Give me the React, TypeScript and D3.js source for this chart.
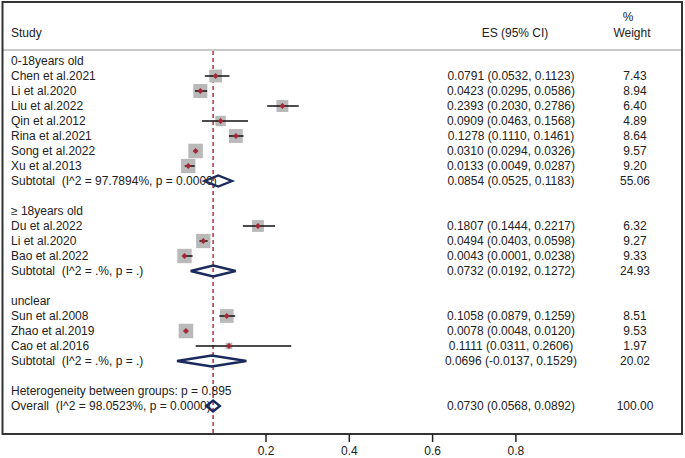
import React from "react";
import * as d3 from "d3";

const groupLabels = ["0-18years old", "\u2265 18years old", "unclear"];

const studyNames = [
  "Chen et al.2021", "Li et al.2020", "Liu et al.2022", "Qin et al.2012",
  "Rina et al.2021", "Song et al.2022", "Xu et al.2013",
  "Du et al.2022", "Li et al.2020", "Bao et al.2022",
  "Sun et al.2008", "Zhao et al.2019", "Cao et al.2016",
];
const studyGroup = [0, 0, 0, 0, 0, 0, 0, 1, 1, 1, 2, 2, 2];
const studyES = [0.0791, 0.0423, 0.2393, 0.0909, 0.1278, 0.031, 0.0133, 0.1807, 0.0494, 0.0043, 0.1058, 0.0078, 0.1111];
const studyLo = [0.0532, 0.0295, 0.203, 0.0463, 0.111, 0.0294, 0.0049, 0.1444, 0.0403, 0.0001, 0.0879, 0.0048, 0.0311];
const studyHi = [0.1123, 0.0586, 0.2786, 0.1568, 0.1461, 0.0326, 0.0287, 0.2217, 0.0598, 0.0238, 0.1259, 0.012, 0.2606];
const studyWeight = [7.43, 8.94, 6.4, 4.89, 8.64, 9.57, 9.2, 6.32, 9.27, 9.33, 8.51, 9.53, 1.97];

const subtotalLabels = [
  "Subtotal  (I^2 = 97.7894%, p = 0.0000)",
  "Subtotal  (I^2 = .%, p = .)",
  "Subtotal  (I^2 = .%, p = .)",
];
const subtotalES = [0.0854, 0.0732, 0.0696];
const subtotalLo = [0.0525, 0.0192, -0.0137];
const subtotalHi = [0.1183, 0.1272, 0.1529];
const subtotalWeight = [55.06, 24.93, 20.02];

const heterogeneityLabel = "Heterogeneity between groups: p = 0.895";
const overallLabel = "Overall  (I^2 = 98.0523%, p = 0.0000)";
const overallES = 0.073;
const overallLo = 0.0568;
const overallHi = 0.0892;
const overallWeight = 100.0;

const xTicks = [0.2, 0.4, 0.6, 0.8];

const W = 685;
const H = 458;
const font = "'Liberation Sans', Arial, sans-serif";
const navy = "#1b2a5c";
const red = "#a3293a";

type Row = {
  kind: "group" | "study" | "sub" | "blank" | "het" | "overall";
  label?: string;
  es?: number;
  lo?: number;
  hi?: number;
  w?: number;
};

function buildRows(): Row[] {
  const rows: Row[] = [];
  groupLabels.forEach((g, gi) => {
    rows.push({ kind: "group", label: g });
    studyNames.forEach((n, i) => {
      if (studyGroup[i] !== gi) return;
      rows.push({ kind: "study", label: n, es: studyES[i], lo: studyLo[i], hi: studyHi[i], w: studyWeight[i] });
    });
    rows.push({ kind: "sub", label: subtotalLabels[gi], es: subtotalES[gi], lo: subtotalLo[gi], hi: subtotalHi[gi], w: subtotalWeight[gi] });
    rows.push({ kind: "blank" });
  });
  rows.push({ kind: "het", label: heterogeneityLabel });
  rows.push({ kind: "overall", label: overallLabel, es: overallES, lo: overallLo, hi: overallHi, w: overallWeight });
  return rows;
}

const App = () => {
  const rows = buildRows();
  const x = d3.scaleLinear().domain([0, 1]).range([182.7, 599.2]);
  const y = d3.scaleLinear().domain([0, rows.length - 1]).range([61, 61 + 15 * (rows.length - 1)]);
  const fmt4 = d3.format(".4f");
  const fmt = (v: number) => fmt4(v).replace("\u2212", "-");
  const fmtW = d3.format(".2f");
  const boxSide = (w: number) => 4.7 * Math.sqrt(w);

  const top = 2;
  const bottom = 434;
  const left = 2.5;
  const right = 682;

  return (
    <svg width={W} height={H} style={{ position: "absolute", left: 0, top: 0, background: "#fff" }}
      fontFamily={font} fontSize={12}>
      <rect x={0} y={0} width={W} height={H} fill="#fff" />
      {/* header */}
      <text x={11} y={33} dominantBaseline="central" fill="#222">Study</text>
      <text x={515} y={33} dominantBaseline="central" textAnchor="middle" fill="#222">ES (95% CI)</text>
      <text x={628} y={17} dominantBaseline="central" textAnchor="middle" fill="#222">%</text>
      <text x={632} y={33} dominantBaseline="central" textAnchor="middle" fill="#222">Weight</text>
      <line x1={left} x2={right} y1={50} y2={50} stroke="#c8c8c8" strokeWidth={2} />

      {/* reference line */}
      <line x1={x(overallES)} x2={x(overallES)} y1={51} y2={bottom} stroke="#b5222f" strokeWidth={1.4} strokeDasharray="4,3" />

      {rows.map((r, i) => {
        const cy = y(i);
        if (r.kind === "blank") return null;
        const texts = (
          <text x={11} y={cy} dominantBaseline="central" fill="#222" style={{ whiteSpace: "pre" }}>{r.label}</text>
        );
        if (r.kind === "group" || r.kind === "het") return <g key={i}>{texts}</g>;
        const esText = `${fmt(r.es!)} (${fmt(r.lo!)}, ${fmt(r.hi!)})`;
        const right = (
          <g>
            <text x={511} y={cy} dominantBaseline="central" textAnchor="middle" fill="#222">{esText}</text>
            <text x={635} y={cy} dominantBaseline="central" textAnchor="middle" fill="#222">{fmtW(r.w!)}</text>
          </g>
        );
        if (r.kind === "study") {
          const s = boxSide(r.w!);
          const px = x(r.es!);
          return (
            <g key={i}>
              {texts}
              {right}
              <rect x={px - s / 2} y={cy - s / 2} width={s} height={s} fill="#b9b9b9" />
              <line x1={x(r.lo!)} x2={x(r.hi!)} y1={cy} y2={cy} stroke="#111" strokeWidth={1.5} />
              <path d={`M${px - 3},${cy} L${px},${cy - 3} L${px + 3},${cy} L${px},${cy + 3} Z`} fill={red} />
            </g>
          );
        }
        const hh = 5.5;
        const d = `M${x(r.lo!)},${cy} L${x(r.es!)},${cy - hh} L${x(r.hi!)},${cy} L${x(r.es!)},${cy + hh} Z`;
        return (
          <g key={i}>
            {texts}
            {right}
            <path d={d} fill="none" stroke={navy} strokeWidth={2.4} strokeLinejoin="miter" />
          </g>
        );
      })}

      {/* frame */}
      <rect x={left} y={top} width={right - left} height={bottom - top} fill="none" stroke="#333" strokeWidth={2} />

      {/* x axis */}
      {xTicks.map((t) => (
        <g key={t}>
          <line x1={x(t)} x2={x(t)} y1={bottom} y2={bottom + 8} stroke="#222" strokeWidth={1.5} />
          <text x={x(t)} y={451} dominantBaseline="central" textAnchor="middle" fill="#222">{d3.format(".1f")(t)}</text>
        </g>
      ))}
    </svg>
  );
};

export default App;
